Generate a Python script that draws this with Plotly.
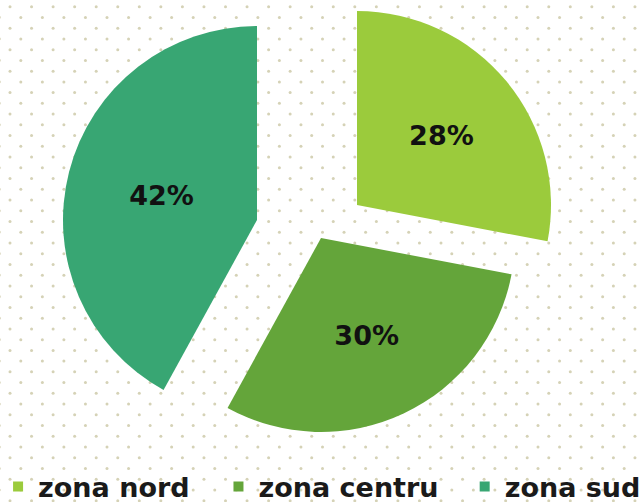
import numpy as np
import plotly.graph_objects as go

# ---- data ----
labels = ["zona nord", "zona centru", "zona sud"]
values = [28, 30, 42]
colors = ["#9BCB3C", "#64A53A", "#38A673"]

W, H = 642, 502
R = 194
# exploded slice vertex (pixel) for each slice
centers = [(357, 205), (321, 238), (257, 220)]

fig = go.Figure()

# dotted background pattern
dx, dy = 21.55, 10.74
xs, ys = [], []
k = 0
y = 6.7
while y < H + 5:
    off = 10.0 if k % 2 == 0 else 20.8
    x = off - dx
    while x < W + 5:
        if x > -3:
            xs.append(x)
            ys.append(y)
        x += dx
    y += dy
    k += 1
fig.add_trace(go.Scatter(x=xs, y=ys, mode="markers",
                         marker=dict(size=3, color="#d5d2b6"),
                         hoverinfo="skip", showlegend=False))

# one pie per exploded slice
for i, (cx, cy) in enumerate(centers):
    cols = [colors[j] if j == i else "rgba(0,0,0,0)" for j in range(len(labels))]
    tpos = ["inside" if j == i else "none" for j in range(len(labels))]
    fig.add_trace(go.Pie(
        labels=labels, values=values, sort=False, direction="clockwise",
        rotation=0, marker=dict(colors=cols, line=dict(width=0)),
        textinfo="percent", textposition=tpos,
        insidetextorientation="horizontal",
        insidetextfont=dict(family="DejaVu Sans", size=27, color="#111111", weight="bold"),
        domain=dict(x=[(cx - R) / W, (cx + R) / W],
                    y=[1 - (cy + R) / H, 1 - (cy - R) / H]),
        showlegend=False, hoverinfo="label+percent",
    ))

# legend entries
legend_x = [-0.003, 0.3403, 0.7238]
for i, lab in enumerate(labels):
    lname = "legend" if i == 0 else f"legend{i+1}"
    fig.add_trace(go.Scatter(x=[None], y=[None], mode="markers", name=lab,
                             marker=dict(symbol="square", size=10, color=colors[i]),
                             legend=lname, showlegend=True))

legend_common = dict(orientation="h", yanchor="middle", y=(H - 487) / H,
                     xanchor="left",
                     bgcolor="rgba(0,0,0,0)",
                     font=dict(family="DejaVu Sans", size=27, color="#1a1a1a", weight="bold"))
fig.update_layout(
    width=W, height=H, autosize=False,
    margin=dict(l=0, r=0, t=0, b=0, autoexpand=False),
    paper_bgcolor="white", plot_bgcolor="white",
    xaxis=dict(range=[0, W], visible=False, fixedrange=True),
    yaxis=dict(range=[H, 0], visible=False, fixedrange=True),
    legend=dict(x=legend_x[0], **legend_common),
    legend2=dict(x=legend_x[1], **legend_common),
    legend3=dict(x=legend_x[2], **legend_common),
)

fig.write_html("out.html", config={"displayModeBar": False},
               post_script="document.body.style.margin='0';")
